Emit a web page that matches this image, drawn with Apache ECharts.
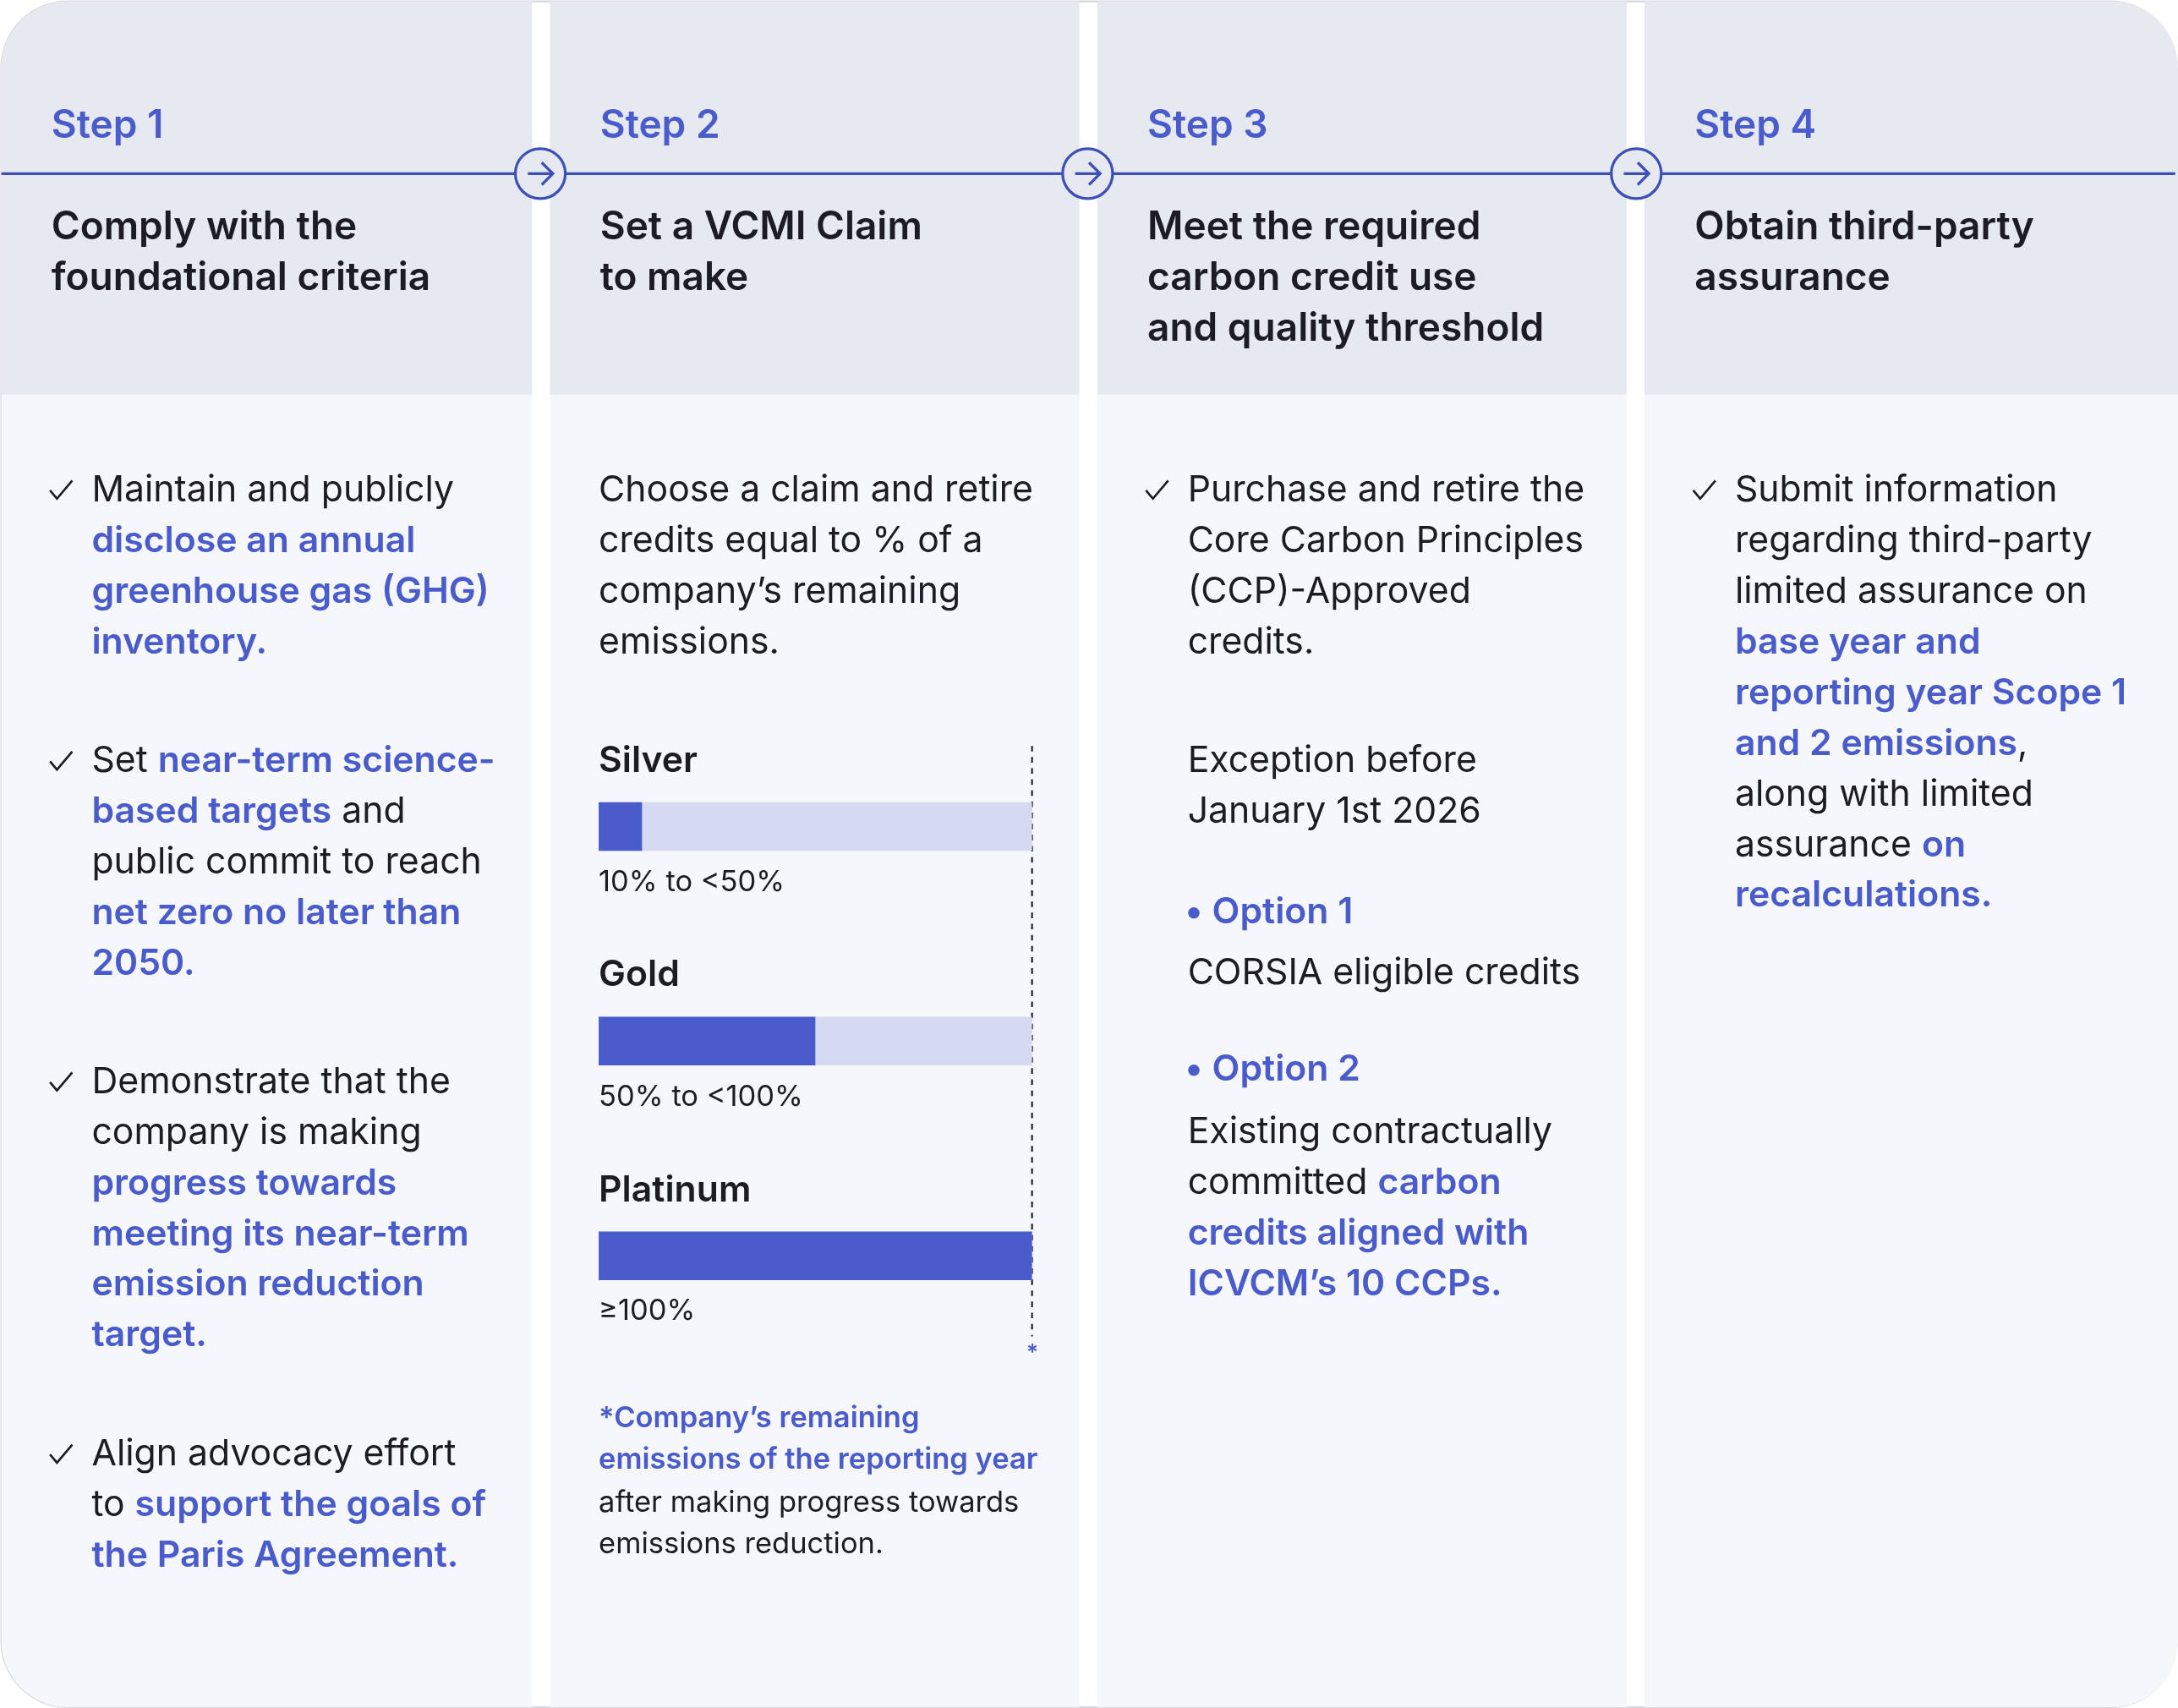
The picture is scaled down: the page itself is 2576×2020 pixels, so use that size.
<!DOCTYPE html>
<html>
<head>
<meta charset="UTF-8">
<title>VCMI Claims</title>
<script src="https://cdn.jsdelivr.net/npm/echarts@6/dist/echarts.min.js"></script>
<style>body{margin:0;background:#fff}</style>
</head>
<body>
<div id="main" style="width:2576px;height:2020px;"></div>
<script type="text/javascript">
var S = 2576 / 1568;
var BLUE = '#4a5bcc', INK = '#1c1c22', HEAD = '#e6e9f0', BODY = '#f6f7fa';
var FONT = 'Inter, "Noto Sans", sans-serif';

// claim tiers: % of remaining emissions retired
var tiers = ['Silver', 'Gold', 'Platinum'];
var tierShare = [10, 50, 100];

var cols = [0, 395, 789, 1183];
var colW = [383, 382, 382, 385];

var kids = [];
// card
kids.push({type: 'rect', shape: {x: 1, y: 1, width: 1566, height: 1228, r: 48}, style: {fill: '#fff', stroke: '#d8dbe2', lineWidth: 1.5}, z: 0});
cols.forEach(function (x, i) {
	var r = i == 0 ? [48, 0, 0, 48] : (i == 3 ? [0, 48, 48, 0] : 0);
	kids.push({type: 'rect', shape: {x: x + 1, y: 1, width: colW[i] - 1, height: 1228, r: r}, style: {fill: BODY}, z: 1});
	kids.push({type: 'rect', shape: {x: x + 1, y: 1, width: colW[i] - 1, height: 283, r: i == 0 ? [48, 0, 0, 0] : (i == 3 ? [0, 48, 0, 0] : 0)}, style: {fill: HEAD}, z: 2});
	kids.push({type: 'text', x: x + 37, y: 91, style: {text: 'Step ' + (i + 1), font: '600 28px ' + FONT, fill: BLUE, textVerticalAlign: 'middle'}, z: 5});
});
kids.push({type: 'line', shape: {x1: 1, y1: 125, x2: 1566, y2: 125}, style: {stroke: '#3f4fb8', lineWidth: 2}, z: 4});
[389, 783, 1178].forEach(function (cx) {
	kids.push({type: 'circle', shape: {cx: cx, cy: 125, r: 18}, style: {fill: HEAD, stroke: '#3f4fb8', lineWidth: 2}, z: 5});
	kids.push({type: 'polyline', shape: {points: [[cx - 9, 125], [cx + 9, 125]]}, style: {stroke: '#3f4fb8', lineWidth: 2}, z: 6});
	kids.push({type: 'polyline', shape: {points: [[cx + 1, 117], [cx + 9, 125], [cx + 1, 133]]}, style: {stroke: '#3f4fb8', lineWidth: 2, fill: null}, z: 6});
});

function txt(x, y, s, size, weight, color) {
	kids.push({type: 'text', x: x, y: y, z: 6, style: {
		text: s, font: (weight || 400) + ' ' + (size || 26) + 'px ' + FONT, fill: color || INK, textVerticalAlign: 'middle',
		rich: {b: {fontFamily: FONT, fontSize: size || 26, fontWeight: 600, fill: BLUE, color: BLUE}}
	}});
}
function check(x, y) {
	kids.push({type: 'polyline', shape: {points: [[x - 8, y], [x - 3, y + 6], [x + 8, y - 7]]}, style: {stroke: INK, lineWidth: 1.6, fill: null}, z: 6});
}
function block(x, y0, lines, step) {
	lines.forEach(function (l, k) { txt(x, y0 + k * (step || 36.5), l); });
}

// titles
var titles = [['Comply with the', 'foundational criteria'], ['Set a VCMI Claim', 'to make'],
	['Meet the required', 'carbon credit use', 'and quality threshold'], ['Obtain third-party', 'assurance']];
titles.forEach(function (t, i) {
	t.forEach(function (l, k) { txt(cols[i] + 37, 164 + k * 36.5, l, 28, 600); });
});

// column 1
[353, 548, 779, 1047].forEach(function (y) { check(44, y); });
block(66, 353, ['Maintain and publicly', '{b|disclose an annual}', '{b|greenhouse gas (GHG)}', '{b|inventory.}']);
block(66, 548, ['Set {b|near-term science-}', '{b|based targets} and', 'public commit to reach', '{b|net zero no later than}', '{b|2050.}']);
block(66, 779, ['Demonstrate that the', 'company is making', '{b|progress towards}', '{b|meeting its near-term}', '{b|emission reduction}', '{b|target.}']);
block(66, 1047, ['Align advocacy effort', 'to {b|support the goals of}', '{b|the Paris Agreement.}']);

// column 2
block(431, 353, ['Choose a claim and retire', 'credits equal to % of a', 'company\u2019s remaining', 'emissions.']);
txt(431, 548, 'Silver', 26, 600); txt(431, 635, '10% to <50%', 21);
txt(431, 702, 'Gold', 26, 600); txt(431, 790, '50% to <100%', 21);
txt(431, 857, 'Platinum', 26, 600); txt(431, 944, '\u2265100%', 21);
kids.push({type: 'line', shape: {x1: 743, y1: 537, x2: 743, y2: 962}, style: {stroke: INK, lineWidth: 1.3, lineDash: [4, 4]}, z: 7});
txt(739, 974, '*', 16, 600, BLUE);
txt(431, 1021, '*Company\u2019s remaining', 21, 600, BLUE);
txt(431, 1051, 'emissions of the reporting year', 21, 600, BLUE);
txt(431, 1082, 'after making progress towards', 21);
txt(431, 1112, 'emissions reduction.', 21);

// column 3
check(833, 353);
block(855, 353, ['Purchase and retire the', 'Core Carbon Principles', '(CCP)-Approved', 'credits.']);
block(855, 548, ['Exception before', 'January 1st 2026']);
txt(853, 657, '\u2022 Option 1', 26, 600, BLUE);
txt(855, 701, 'CORSIA eligible credits');
txt(853, 770, '\u2022 Option 2', 26, 600, BLUE);
block(855, 815, ['Existing contractually', 'committed {b|carbon}', '{b|credits aligned with}', '{b|ICVCM\u2019s 10 CCPs.}']);

// column 4
check(1227, 353);
block(1249, 353, ['Submit information', 'regarding third-party', 'limited assurance on', '{b|base year and}',
	'{b|reporting year Scope 1}', '{b|and 2 emissions},', 'along with limited', 'assurance {b|on}', '{b|recalculations.}']);

var chart = echarts.init(document.getElementById('main'));
chart.setOption({
	animation: false,
	graphic: [{type: 'group', scaleX: S, scaleY: S, children: kids}],
	grid: {left: 431 * S, width: 312 * S, top: 517.75 * S, height: 463.5 * S},
	xAxis: {type: 'value', min: 0, max: 100, show: false},
	yAxis: {type: 'category', data: tiers, inverse: true, show: false},
	series: [{
		type: 'bar', data: tierShare, barWidth: 35 * S, z: 10,
		itemStyle: {color: '#4a5bcc'},
		showBackground: true, backgroundStyle: {color: '#d6daf0'}
	}]
});
</script>
</body>
</html>
